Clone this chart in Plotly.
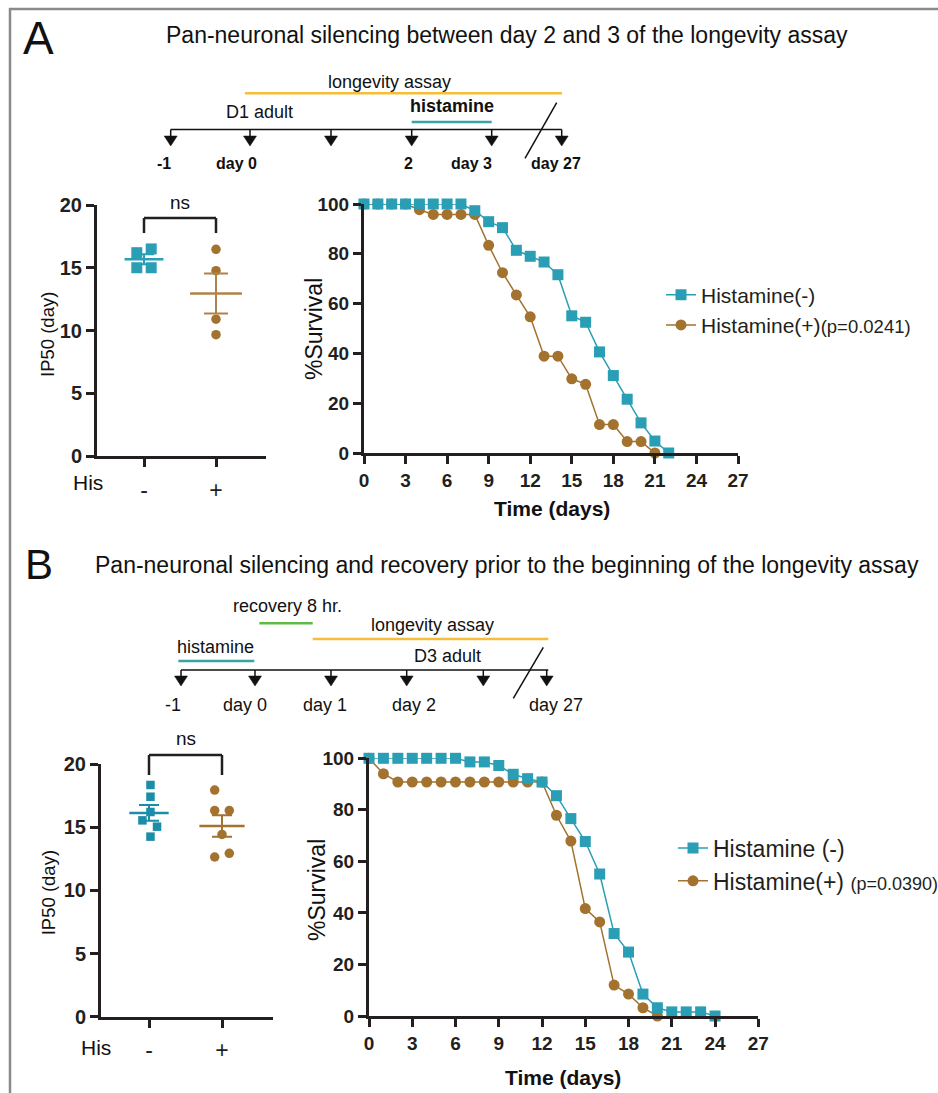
import numpy as np
import plotly.graph_objects as go

W, H = 938, 1093

# ---------------- data ----------------
# Panel A survival curves
days_A_neg = list(range(0, 23))
surv_A_neg = [100, 100, 100, 100, 100, 100, 100, 100, 97.3, 92.9, 90.5, 81.4, 79.0, 76.7,
              71.6, 55.1, 52.5, 40.6, 31.1, 21.6, 12.1, 4.8, 0]
days_A_pos = list(range(0, 22))
surv_A_pos = [100, 100, 100, 100, 97.7, 95.8, 95.8, 95.8, 95.8, 83.4, 72.4, 63.5, 54.7, 38.9,
              38.9, 29.8, 27.6, 11.4, 11.4, 4.6, 4.6, 0]
# Panel B survival curves
days_B_neg = list(range(0, 25))
surv_B_neg = [100, 100, 100, 100, 100, 100, 100, 98.6, 98.6, 97.2, 93.8, 92.1, 90.8, 85.5,
              76.6, 67.7, 55.1, 32.0, 24.8, 8.5, 3.2, 1.6, 1.6, 1.6, 0]
days_B_pos = list(range(0, 21))
surv_B_pos = [100, 94.0, 90.8, 90.8, 90.8, 90.8, 90.8, 90.8, 90.8, 90.8, 90.8, 90.8, 90.8,
              77.9, 67.9, 41.7, 36.5, 12.0, 8.5, 3.2, 0]

# IP50 dot plots
his_labels = ["-", "+"]
ip50_A_neg = [16.2, 16.5, 15.0, 15.0]
ip50_A_pos = [16.47, 14.77, 10.9, 9.67]
ip50_B_neg = [18.34, 17.41, 16.2, 15.54, 15.04, 14.25]
ip50_B_pos = [17.94, 16.31, 16.31, 14.43, 12.64, 12.93]

# legend names
names_A = ["Histamine(-)", "Histamine(+)", "(p=0.0241)"]
names_B = ["Histamine (-)", "Histamine(+) ", "(p=0.0390)"]

# timeline texts
tlA_labels = ["-1", "day 0", "2", "day 3", "day 27"]
tlB_labels = ["-1", "day 0", "day 1", "day 2", "day 27"]

# ---------------- styles / layout constants ----------------
TEAL = "#2A9EB5"
TEAL_D = "#1C8DA8"
BROWN = "#A3722E"
BROWN_L = "#B0834A"
INK = "#231F20"
FONT = "Liberation Sans, Arial, sans-serif"

jit_A_neg = [-0.1, 0.1, -0.1, 0.1]
jit_A_pos = [0, 0, 0, 0]
jit_B_neg = [0.02, 0.02, 0.02, -0.09, 0.11, 0.02]
jit_B_pos = [-0.1, -0.1, 0.1, 0, -0.1, 0.1]


def PX(x):
    return x / W


def PY(y):
    return 1 - y / H


# axis geometry in pixels: (x0, x1, y_top, y_bottom), and ranges
geo = {
    "sA": dict(px=(97, 266), py=(205, 456), xr=[(97 - 144) / 72, (266 - 144) / 72], yr=[0, 20]),
    "kA": dict(px=(364, 738), py=(204, 453), xr=[0, 27], yr=[0, 100]),
    "sB": dict(px=(101, 273), py=(764, 1016.7), xr=[(101 - 149) / 73, (273 - 149) / 73], yr=[0, 20]),
    "kB": dict(px=(369, 758.3), py=(758.3, 1016), xr=[0, 27], yr=[0, 100]),
}


def d2px(key, xv, yv):
    g = geo[key]
    x0, x1 = g["px"]
    yt, yb = g["py"]
    xp = x0 + (xv - g["xr"][0]) / (g["xr"][1] - g["xr"][0]) * (x1 - x0)
    yp = yb - (yv - g["yr"][0]) / (g["yr"][1] - g["yr"][0]) * (yb - yt)
    return xp, yp


fig = go.Figure()

# ---------------- survival curves ----------------
def add_surv(days_neg, surv_neg, days_pos, surv_pos, xa, ya, names, leg, pfs):
    fig.add_trace(go.Scatter(
        x=days_pos, y=surv_pos, mode="lines+markers", xaxis=xa, yaxis=ya,
        name=names[1] + f"<span style='font-size:{pfs}px'>{names[2]}</span>",
        line=dict(color=BROWN, width=1.5),
        marker=dict(symbol="circle", size=11, color=BROWN),
        cliponaxis=False, legend=leg, legendrank=2))
    fig.add_trace(go.Scatter(
        x=days_neg, y=surv_neg, mode="lines+markers", xaxis=xa, yaxis=ya,
        name=names[0],
        line=dict(color=TEAL, width=1.5),
        marker=dict(symbol="square", size=11, color=TEAL),
        cliponaxis=False, legend=leg, legendrank=1))


add_surv(days_A_neg, surv_A_neg, days_A_pos, surv_A_pos, "x2", "y2", names_A, "legend", 18.5)
add_surv(days_B_neg, surv_B_neg, days_B_pos, surv_B_pos, "x4", "y4", names_B, "legend2", 18)

# ---------------- dot plots ----------------
def add_dots(vals, jit, cat, symbol, size, color, lcolor, xa, ya, half, cap):
    xs = [cat + j for j in jit]
    fig.add_trace(go.Scatter(x=xs, y=vals, mode="markers", xaxis=xa, yaxis=ya,
                             marker=dict(symbol=symbol, size=size, color=color),
                             cliponaxis=False, showlegend=False))
    m = float(np.mean(vals))
    sem = float(np.std(vals, ddof=1) / np.sqrt(len(vals)))
    fig.add_trace(go.Scatter(x=[cat - half, cat + half], y=[m, m], mode="lines",
                             xaxis=xa, yaxis=ya, line=dict(color=lcolor, width=2.5),
                             showlegend=False, cliponaxis=False))
    fig.add_trace(go.Scatter(x=[cat], y=[m], mode="markers", xaxis=xa, yaxis=ya,
                             marker=dict(size=1, color="rgba(0,0,0,0)"),
                             error_y=dict(type="data", array=[sem], visible=True,
                                          color=lcolor, thickness=2, width=cap),
                             showlegend=False, cliponaxis=False))


add_dots(ip50_A_neg, jit_A_neg, 0, "square", 11, TEAL, TEAL, "x", "y", 0.27, 10)
add_dots(ip50_A_pos, jit_A_pos, 1, "circle", 9.5, BROWN, BROWN_L, "x", "y", 0.36, 12)
add_dots(ip50_B_neg, jit_B_neg, 0, "square", 8.5, TEAL_D, TEAL_D, "x3", "y3", 0.27, 10)
add_dots(ip50_B_pos, jit_B_pos, 1, "circle", 9.5, BROWN, BROWN, "x3", "y3", 0.31, 10)

# ---------------- axes ----------------
def ax_common(key, which):
    g = geo[key]
    if which == "x":
        dom = [PX(g["px"][0]), PX(g["px"][1])]
        rng = g["xr"]
    else:
        dom = [PY(g["py"][1]), PY(g["py"][0])]
        rng = g["yr"]
    return dict(domain=dom, range=rng, showgrid=False, zeroline=False, showline=True,
                linecolor=INK, linewidth=3, ticks="outside", ticklen=8, tickwidth=3,
                tickcolor=INK, fixedrange=True)


fig.update_layout(
    xaxis=dict(**ax_common("sA", "x"), anchor="y", tickvals=[0, 1], ticktext=his_labels,
               tickfont=dict(family=FONT, size=23, color=INK), ticklabelstandoff=3),
    yaxis=dict(**ax_common("sA", "y"), anchor="x", tickvals=[0, 5, 10, 15, 20],
               tickfont=dict(family=FONT, size=20, color=INK, weight="bold")),
    xaxis2=dict(**ax_common("kA", "x"), anchor="y2", tickvals=list(range(0, 28, 3)),
                tickfont=dict(family=FONT, size=19, color=INK, weight="bold")),
    yaxis2=dict(**ax_common("kA", "y"), anchor="x2", tickvals=list(range(0, 101, 20)),
                tickfont=dict(family=FONT, size=19, color=INK, weight="bold")),
    xaxis3=dict(**ax_common("sB", "x"), anchor="y3", tickvals=[0, 1], ticktext=his_labels,
                tickfont=dict(family=FONT, size=23, color=INK), ticklabelstandoff=3),
    yaxis3=dict(**ax_common("sB", "y"), anchor="x3", tickvals=[0, 5, 10, 15, 20],
                tickfont=dict(family=FONT, size=20, color=INK, weight="bold")),
    xaxis4=dict(**ax_common("kB", "x"), anchor="y4", tickvals=list(range(0, 28, 3)),
                tickfont=dict(family=FONT, size=19, color=INK, weight="bold")),
    yaxis4=dict(**ax_common("kB", "y"), anchor="x4", tickvals=list(range(0, 101, 20)),
                tickfont=dict(family=FONT, size=19, color=INK, weight="bold")),
)

# ---------------- legends ----------------
fig.update_layout(
    legend=dict(x=PX(661), y=PY(310), xanchor="left", yanchor="middle",
                font=dict(family=FONT, size=21, color=INK), bgcolor="rgba(0,0,0,0)"),
    legend2=dict(x=PX(673), y=PY(864.5), xanchor="left", yanchor="middle",
                 font=dict(family=FONT, size=23, color=INK), bgcolor="rgba(0,0,0,0)"),
)

# ---------------- annotations & shapes ----------------
ann = []
shapes = []


def text(x, y, s, size, bold=False, angle=0, family=FONT, anchor="center"):
    ann.append(dict(x=PX(x), y=PY(y), xref="paper", yref="paper", text=s, showarrow=False,
                    xanchor=anchor, yanchor="middle", textangle=angle,
                    font=dict(family=family, size=size, color="#111",
                              weight="bold" if bold else "normal")))


def line(x0, y0, x1, y1, color, width):
    shapes.append(dict(type="line", xref="paper", yref="paper", x0=PX(x0), y0=PY(y0),
                       x1=PX(x1), y1=PY(y1), line=dict(color=color, width=width)))


def arrow(x, y0, y1):
    line(x, y0, x, y1 - 6, "#111", 1.5)
    p = f"M{PX(x-6.5)},{PY(y1-10)} L{PX(x+6.5)},{PY(y1-10)} L{PX(x)},{PY(y1)} Z"
    shapes.append(dict(type="path", xref="paper", yref="paper", path=p,
                       fillcolor="#111", line=dict(color="#111", width=0.5)))


# frame
line(9, 9, 938, 9, "#8a8a8a", 2.5)
line(10, 8, 10, 1093, "#8a8a8a", 2.5)

# panel letters and titles
text(38, 38, "A", 46)
text(507.5, 35, "Pan-neuronal silencing between day 2 and 3 of the longevity assay", 23)
text(38.5, 564, "B", 42)
text(506.5, 565, "Pan-neuronal silencing and recovery prior to the beginning of the longevity assay", 23)

# timeline A
text(389, 82, "longevity assay", 18)
line(245, 93.3, 562, 93.3, "#F4BE3A", 2.5)
text(259.5, 112.5, "D1 adult", 18)
text(452, 106, "histamine", 18, bold=True)
line(411.7, 122, 491.7, 122, "#3AA3A6", 2.5)
line(170.7, 129.5, 561.7, 129.5, "#111", 1.5)
for xa in [170.7, 250, 331, 411.7, 491.7, 561.7]:
    arrow(xa, 129.5, 146)
line(556.7, 102.7, 525, 158.3, "#111", 1.5)
for lab, xl in zip(tlA_labels, [164, 236, 408, 471.7, 556]):
    text(xl, 163, lab, 16, bold=True)

# timeline B
text(287.5, 606, "recovery 8 hr.", 18)
line(259.3, 623.3, 312.7, 623.3, "#5DBB46", 2.5)
text(432, 625, "longevity assay", 18)
line(312.7, 639, 548.3, 639, "#F4BE3A", 2.5)
text(215.5, 646.5, "histamine", 18)
line(178.3, 661, 254.3, 661, "#3AA3A6", 2.5)
text(447, 656, "D3 adult", 18)
line(181, 670, 548.3, 670, "#111", 1.5)
for xa in [181, 255, 331, 406.7, 483.3, 546.7]:
    arrow(xa, 670, 686)
line(543.3, 647.3, 513.3, 698.3, "#111", 1.5)
for lab, xl in zip(tlB_labels, [173.3, 245, 324.5, 414, 556]):
    text(xl, 705, lab, 18)

# axis titles
text(314, 329, "%Survival", 23, angle=-90)
text(551.7, 508, "Time (days)", 21, bold=True)
text(48, 335, "IP50 (day)", 18.5, angle=-90)
text(87.5, 482, "His", 21)
text(317, 890, "%Survival", 23, angle=-90)
text(563, 1077, "Time (days)", 21, bold=True)
text(48.3, 893, "IP50 (day)", 18.5, angle=-90)
text(96, 1047, "His", 21)

# significance brackets
for key, top, legs, nsy in [("sA", 218, 233, 202), ("sB", 755, 775, 738)]:
    xl, _ = d2px(key, 0, 0)
    xr, _ = d2px(key, 1, 0)
    line(xl, legs, xl, top, INK, 2.5)
    line(xl, top, xr, top, INK, 2.5)
    line(xr, top, xr, legs, INK, 2.5)
    text((xl + xr) / 2, nsy, "ns", 19)

fig.update_layout(
    annotations=ann, shapes=shapes,
    width=W, height=H,
    margin=dict(l=0, r=0, t=0, b=0, autoexpand=False),
    paper_bgcolor="white", plot_bgcolor="white",
    font=dict(family=FONT, color=INK),
    showlegend=True,
)

fig.write_html("out.html", config={"displayModeBar": False},
               post_script="document.body.style.margin='0';document.body.style.overflow='hidden';")
